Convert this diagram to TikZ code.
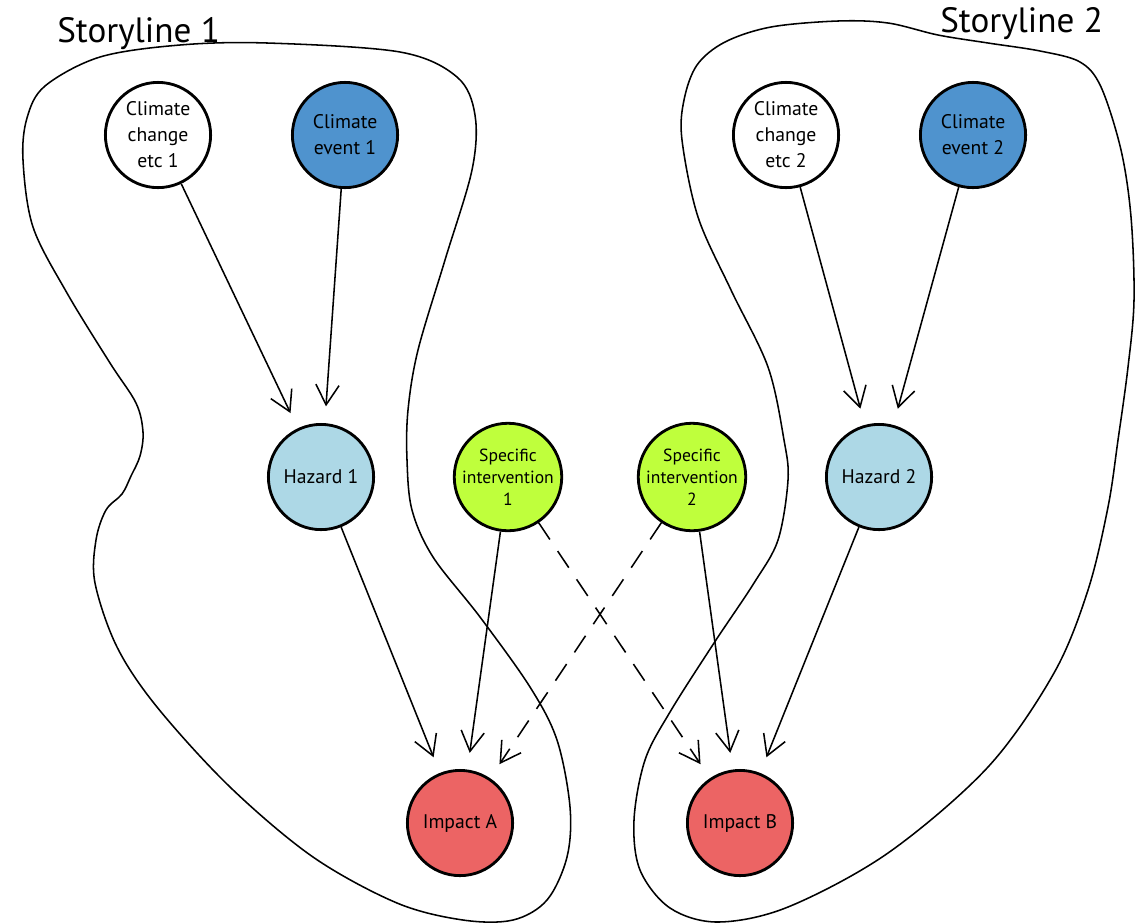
\documentclass[tikz,border=0pt]{standalone}
\usepackage{fontspec}
\setmainfont{PT Sans}
\usetikzlibrary{arrows.meta}

\definecolor{eventblue}{RGB}{79,147,206}
\definecolor{hazardblue}{RGB}{173,216,230}
\definecolor{actgreen}{RGB}{191,255,60}
\definecolor{impactred}{RGB}{236,100,100}

\begin{document}
\begin{tikzpicture}[x=0.025cm,y=-0.025cm,
	bubble/.style={circle,draw,line width=2pt,minimum size=2.63cm,inner sep=0pt,align=center,
		font=\fontsize{14}{18.5}\selectfont},
	small/.style={font=\fontsize{12.5}{15.8}\selectfont},
	link/.style={line width=1.1pt,-{Straight Barb[length=0.5cm,width=0.58cm,line width=1.1pt]},shorten >=0.42cm},
	outline/.style={line width=1.1pt}]

\useasboundingbox (0,0) rectangle (1141,923);

% the two storylines
\draw[outline] plot[smooth cycle,tension=0.55] coordinates {(180,45) (267,43) (400,52) (457,77) (475,115) (472,170) (445,260) (418,350)
	(408,410) (407,460) (412,510) (433,557) (480,617) (530,687) (557,740) (570,807) (567,857) (547,900)
	(513,920) (463,920) (397,903) (313,857) (230,787) (157,707) (117,647) (95,583) (96,540) (106,510)
	(122,494) (131,476) (140,456) (143,432) (136,403) (110,363) (67,293) (33,227) (23,160) (27,118) (45,86) (100,57)};
\draw[outline] plot[smooth cycle,tension=0.55] coordinates {(771,27) (838,21) (888,23) (938,35) (988,43) (1040,51) (1080,62) (1101,87)
	(1121,150) (1131,217) (1134,300) (1128,367) (1118,440) (1108,507) (1088,590) (1054,673) (988,767)
	(888,853) (788,907) (718,922) (670,908) (640,870) (634,820) (645,760) (670,712) (714,643) (754,583)
	(778,540) (788,480) (784,440) (768,367) (731,290) (698,217) (682,140) (684,100) (697,65) (725,42)};
\node[anchor=base west,inner sep=0pt,font=\fontsize{25}{30}\selectfont] (title1) at (57,42) {Storyline 1};
\node[anchor=base west,inner sep=0pt,font=\fontsize{25}{30}\selectfont] (title2) at (940,32) {Storyline 2};

% nodes
\node[bubble,fill=white] (cc1) at (158,135) {Climate\\change\\etc 1};
\node[bubble,fill=eventblue] (ev1) at (345,135) {Climate\\event 1};
\node[bubble,fill=white] (cc2) at (786,135) {Climate\\change\\etc 2};
\node[bubble,fill=eventblue] (ev2) at (973,135) {Climate\\event 2};
\node[bubble,fill=hazardblue] (haz1) at (321,477) {Hazard 1};
\node[bubble,small,fill=actgreen] (si1) at (508,477) {Specific\\intervention\\1};
\node[bubble,small,fill=actgreen] (si2) at (692,477) {Specific\\intervention\\2};
\node[bubble,fill=hazardblue] (haz2) at (879,477) {Hazard 2};
\node[bubble,fill=impactred] (impA) at (460,823) {Impact A};
\node[bubble,fill=impactred] (impB) at (740,823) {Impact B};

% arrows
\foreach \a/\b in {cc1/haz1, ev1/haz1, haz1/impA, si1/impA, cc2/haz2, ev2/haz2, haz2/impB, si2/impB}
	\draw[link] (\a) -- (\b);
\foreach \a/\b in {si1/impB, si2/impA}
	\draw[link,dash pattern=on 0.5cm off 0.35cm] (\a) -- (\b);

\end{tikzpicture}
\end{document}
